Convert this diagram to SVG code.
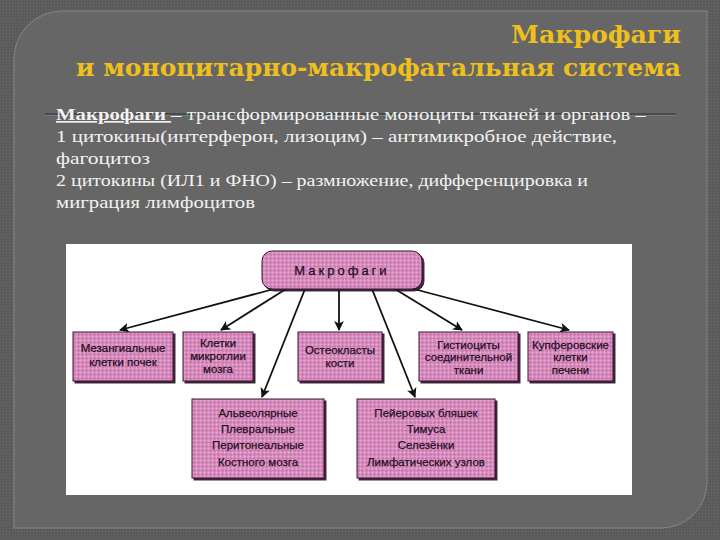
<svg xmlns="http://www.w3.org/2000/svg" width="720" height="540" viewBox="0 0 720 540">
<defs>
  <pattern id="dots" width="3" height="3" patternUnits="userSpaceOnUse">
    <rect width="3" height="3" fill="#5c5c5c"/>
    <rect width="1" height="1" fill="#6a6a6a"/>
    <rect x="1.5" y="1.5" width="1" height="1" fill="#525252"/>
  </pattern>
  <pattern id="weave" width="4" height="4" patternUnits="userSpaceOnUse">
    <rect width="4" height="4" fill="#d588bb"/>
    <path d="M0,0.5H4M0.5,0V4" stroke="#e6a3cf" stroke-width="0.8"/>
    <path d="M0,2.5H4M2.5,0V4" stroke="#c576ab" stroke-width="0.6"/>
  </pattern>
  <marker id="arr" viewBox="0 0 10 10" refX="9" refY="5" markerWidth="5.5" markerHeight="5.5" orient="auto" markerUnits="strokeWidth">
    <path d="M0,0 L10,5 L0,10 L2.5,5 Z" fill="#111"/>
  </marker>
  <filter id="sh" x="-10%" y="-10%" width="130%" height="130%">
    <feDropShadow dx="2" dy="2" stdDeviation="0.6" flood-color="#2a0e22" flood-opacity="0.9"/>
  </filter>
</defs>
<style>
  .title{font-family:"DejaVu Serif","Liberation Serif",serif;font-weight:bold;font-size:25px;fill:#efc01c;text-anchor:end}
  .body{font-family:"Liberation Serif","DejaVu Serif",serif;font-size:17px;fill:#f2f2f2}
  .box{fill:url(#weave);stroke:#3a1530;stroke-width:1;filter:url(#sh)}
  .lbl{font-family:"Liberation Sans",Arial,sans-serif;font-size:11.5px;fill:#26101f;stroke:#26101f;stroke-width:0.25;text-anchor:middle}
  .con{stroke:#111;stroke-width:1.8;fill:none;marker-end:url(#arr)}
</style>
<rect width="720" height="540" fill="url(#dots)"/>
<path d="M14,60 A48,48 0 0 1 62,11 L707,11 L707,482 A46,46 0 0 1 661,528 L14,528 Z" fill="#666666" stroke="#858585" stroke-width="1"/>

<text class="title" x="681" y="43" textLength="170" lengthAdjust="spacingAndGlyphs">Макрофаги</text>
<text class="title" x="681" y="76" textLength="605" lengthAdjust="spacingAndGlyphs">и моноцитарно-макрофагальная система</text>

<line x1="45" y1="114" x2="676" y2="114" stroke="#3e4548" stroke-width="1.5"/>
<line x1="45" y1="115.5" x2="676" y2="115.5" stroke="#8a8a8a" stroke-width="0.6"/>
<text class="body" x="56" y="120" textLength="590" lengthAdjust="spacingAndGlyphs"><tspan font-weight="bold" text-decoration="underline">Макрофаги </tspan>– трансформированные моноциты тканей и органов –</text>
<text class="body" x="56" y="142" textLength="561" lengthAdjust="spacingAndGlyphs">1 цитокины(интерферон, лизоцим) – антимикробное действие,</text>
<text class="body" x="56" y="164" textLength="94" lengthAdjust="spacingAndGlyphs">фагоцитоз</text>
<text class="body" x="56" y="186" textLength="532" lengthAdjust="spacingAndGlyphs">2 цитокины (ИЛ1 и ФНО) – размножение, дифференцировка и</text>
<text class="body" x="56" y="208" textLength="199" lengthAdjust="spacingAndGlyphs">миграция лимфоцитов</text>

<rect x="66" y="244" width="566" height="251" fill="#ffffff"/>

<g id="connectors">
  <line class="con" x1="274" y1="289" x2="120" y2="330"/>
  <line class="con" x1="286" y1="289" x2="221" y2="330"/>
  <line class="con" x1="305" y1="289" x2="262" y2="397"/>
  <line class="con" x1="339" y1="289" x2="339" y2="330"/>
  <line class="con" x1="372" y1="289" x2="415" y2="397"/>
  <line class="con" x1="395" y1="289" x2="462" y2="330"/>
  <line class="con" x1="410" y1="288" x2="569" y2="330"/>
</g>

<g id="macrophages">
  <rect class="box" x="262" y="251" width="160" height="38" rx="10"/>
  <text x="342" y="275" font-family="Liberation Sans, Arial, sans-serif" font-size="13px" letter-spacing="3" fill="#26101f" stroke="#26101f" stroke-width="0.25" text-anchor="middle">Макрофаги</text>
</g>
<g id="mesangial">
  <rect class="box" x="73" y="332" width="100" height="49"/>
  <text class="lbl" x="123" y="352">Мезангиальные</text>
  <text class="lbl" x="123" y="366">клетки почек</text>
</g>
<g id="microglia">
  <rect class="box" x="183" y="332" width="70" height="49"/>
  <text class="lbl" x="218" y="347">Клетки</text>
  <text class="lbl" x="218" y="360">микроглии</text>
  <text class="lbl" x="218" y="373">мозга</text>
</g>
<g id="osteoclasts">
  <rect class="box" x="298" y="332" width="84" height="49"/>
  <text class="lbl" x="340" y="354">Остеокласты</text>
  <text class="lbl" x="340" y="367">кости</text>
</g>
<g id="histiocytes">
  <rect class="box" x="419" y="332" width="99" height="49"/>
  <text class="lbl" x="468.500" y="349">Гистиоциты</text>
  <text class="lbl" x="468.500" y="361">соединительной</text>
  <text class="lbl" x="468.500" y="374">ткани</text>
</g>
<g id="kupffer">
  <rect class="box" x="528" y="332" width="85" height="49"/>
  <text class="lbl" x="570.500" y="349">Купферовские</text>
  <text class="lbl" x="570.500" y="361">клетки</text>
  <text class="lbl" x="570.500" y="374">печени</text>
</g>
<g id="alveolar">
  <rect class="box" x="192" y="399" width="132" height="79"/>
  <text class="lbl" x="258" y="417">Альвеолярные</text>
  <text class="lbl" x="258" y="433">Плевральные</text>
  <text class="lbl" x="258" y="449">Перитонеальные</text>
  <text class="lbl" x="258" y="466">Костного мозга</text>
</g>
<g id="peyer">
  <rect class="box" x="357" y="399" width="138" height="79"/>
  <text class="lbl" x="426" y="417">Пейеровых бляшек</text>
  <text class="lbl" x="426" y="433">Тимуса</text>
  <text class="lbl" x="426" y="449">Селезёнки</text>
  <text class="lbl" x="426" y="466">Лимфатических узлов</text>
</g>
</svg>
